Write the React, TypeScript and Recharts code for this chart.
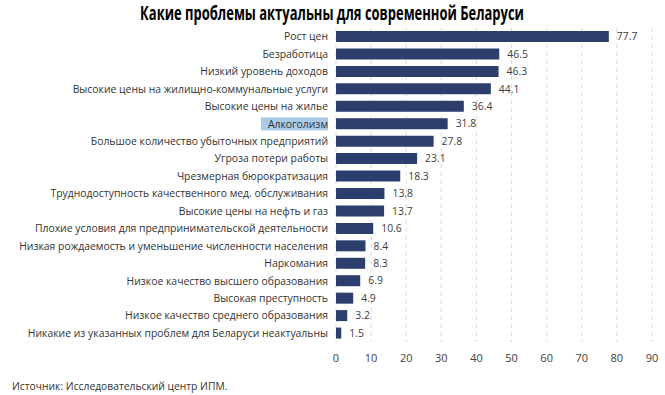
import React from "react";
import { Bar, BarChart, CartesianGrid, LabelList, XAxis, YAxis } from "recharts";

const categories = [
  "Рост цен",
  "Безработица",
  "Низкий уровень доходов",
  "Высокие цены на жилищно-коммунальные услуги",
  "Высокие цены на жилье",
  "Алкоголизм",
  "Большое количество убыточных предприятий",
  "Угроза потери работы",
  "Чрезмерная бюрократизация",
  "Труднодоступность качественного мед. обслуживания",
  "Высокие цены на нефть и газ",
  "Плохие условия для предпринимательской деятельности",
  "Низкая рождаемость и уменьшение численности населения",
  "Наркомания",
  "Низкое качество высшего образования",
  "Высокая преступность",
  "Низкое качество среднего образования",
  "Никакие из указанных проблем для Беларуси неактуальны",
];

const values = [77.7, 46.5, 46.3, 44.1, 36.4, 31.8, 27.8, 23.1, 18.3, 13.8, 13.7, 10.6, 8.4, 8.3, 6.9, 4.9, 3.2, 1.5];

const xTicks = [0, 10, 20, 30, 40, 50, 60, 70, 80, 90];

const highlighted = "Алкоголизм";

const data = categories.map((name, i) => ({ name, value: values[i] }));

const FONT = "'Open Sans', sans-serif";
const BAR_COLOR = "#2b3e6c";

function CategoryTick(props: any) {
  const { x, y, payload } = props;
  const label = payload.value as string;
  const isHi = label === highlighted;
  return (
    <g transform={`translate(${x},${y})`}>
      {isHi && <rect x={-67} y={-6.5} width={67} height={13} fill="#a9cbe8" />}
      <text x={0} y={0} dy="0.35em" textAnchor="end" fill="#333" fontSize={10.4} fontFamily={FONT}>
        {label}
      </text>
    </g>
  );
}

export default function App() {
  return (
    <div style={{ position: "absolute", left: 0, top: 0, width: 665, height: 395, background: "#fff" }}>
      <div
        style={{
          position: "absolute",
          top: 0,
          left: 0,
          width: 665,
          height: 26,
          display: "flex",
          justifyContent: "center",
          alignItems: "center",
        }}
      >
        <span
          style={{
            display: "inline-block",
            whiteSpace: "nowrap",
            fontFamily: FONT,
            fontWeight: 700,
            fontSize: 19,
            lineHeight: "24px",
            color: "#000",
            transform: "scaleX(0.683)",
          }}
        >
          Какие проблемы актуальны для современной Беларуси
        </span>
      </div>
      <div style={{ position: "absolute", top: 0, left: 0 }}>
        <BarChart
          width={665}
          height={370}
          data={data}
          layout="vertical"
          margin={{ top: 28, right: 13, left: 0, bottom: 0 }}
          barSize={11}
        >
          <CartesianGrid horizontal={false} strokeDasharray="4 4" stroke="#d9d9d9" />
          <XAxis
            type="number"
            domain={[0, 90]}
            ticks={xTicks}
            axisLine={false}
            tickLine={false}
            tick={{ fill: "#404040", fontSize: 11, fontFamily: FONT }}
            tickMargin={6}
            height={28}
            interval={0}
          />
          <YAxis
            type="category"
            dataKey="name"
            width={336}
            axisLine={false}
            tickLine={false}
            interval={0}
            tick={<CategoryTick />}
          />
          <Bar dataKey="value" fill={BAR_COLOR} isAnimationActive={false}>
            <LabelList dataKey="value" position="right" offset={8} fill="#404040" fontSize={10.4} fontFamily={FONT} />
          </Bar>
        </BarChart>
      </div>
      <div
        style={{
          position: "absolute",
          left: 12,
          top: 379,
          fontFamily: FONT,
          fontSize: 10.3,
          color: "#333",
          whiteSpace: "nowrap",
        }}
      >
        Источник: Исследовательский центр ИПМ.
      </div>
    </div>
  );
}
